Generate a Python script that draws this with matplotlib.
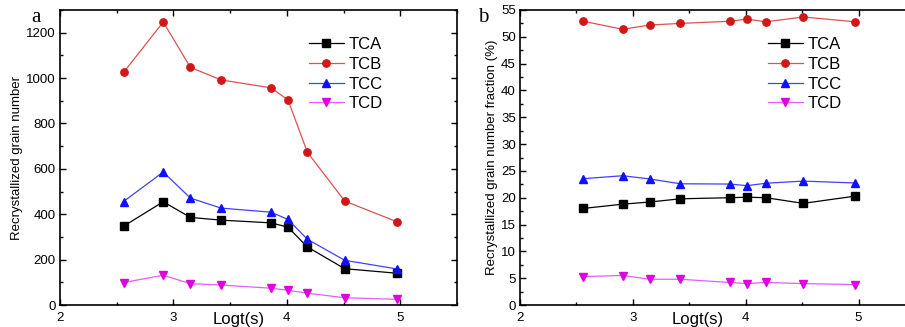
import matplotlib
matplotlib.use("Agg")
import matplotlib.pyplot as plt
from matplotlib.ticker import MultipleLocator

plt.rcParams['font.family'] = ['Liberation Sans', 'DejaVu Sans']

logt = [2.56, 2.91, 3.15, 3.42, 3.86, 4.01, 4.18, 4.51, 4.97]
series = ["TCA", "TCB", "TCC", "TCD"]

num_tca = [347, 455, 386, 374, 362, 343, 256, 160, 140]
num_tcb = [1025, 1247, 1047, 992, 957, 904, 674, 458, 367]
num_tcc = [456, 586, 471, 427, 409, 377, 290, 197, 159]
num_tcd = [99, 131, 94, 88, 74, 65, 52, 32, 25]

frac_tca = [18.0, 18.8, 19.2, 19.8, 20.0, 20.1, 20.0, 18.95, 20.3]
frac_tcb = [52.9, 51.4, 52.2, 52.5, 52.9, 53.3, 52.8, 53.7, 52.8]
frac_tcc = [23.55, 24.1, 23.5, 22.6, 22.55, 22.25, 22.7, 23.1, 22.75]
frac_tcd = [5.3, 5.5, 4.8, 4.8, 4.2, 4.0, 4.2, 4.0, 3.8]

styles = [
    dict(color='black', marker='s', mfc='black', mec='black'),
    dict(color='#e05050', marker='o', mfc='#d01818', mec='#d01818'),
    dict(color='#4040ff', marker='^', mfc='#1010ff', mec='#1010ff'),
    dict(color='#e060ff', marker='v', mfc='#e000e0', mec='#e000e0'),
]

W, H = 905, 327
fig = plt.figure(figsize=(W / 100, H / 100), dpi=100)

ax_a = fig.add_axes([60 / W, 1 - 305 / H, 397 / W, 295 / H])
ax_b = fig.add_axes([520 / W, 1 - 305 / H, 395 / W, 295 / H])

panels = [
    (ax_a, [num_tca, num_tcb, num_tcc, num_tcd], (0, 1300), 200, 100,
     "Recrystallized grain number", "a", -0.06),
    (ax_b, [frac_tca, frac_tcb, frac_tcc, frac_tcd], (0, 55), 5, 2.5,
     "Recrystallized grain number fraction (%)", "b", -0.094),
]

for ax, data, ylim, ymaj, ymin, ylabel, tag, tagx in panels:
    for name, vals, st in zip(series, data, styles):
        ax.plot(logt, vals, color=st['color'], lw=0.9, marker=st['marker'],
                ms=5.3, mfc=st['mfc'], mec=st['mec'], label=name)
    ax.set_xlim(2, 5.5)
    ax.set_ylim(*ylim)
    ax.xaxis.set_major_locator(MultipleLocator(1))
    ax.xaxis.set_minor_locator(MultipleLocator(0.5))
    ax.yaxis.set_major_locator(MultipleLocator(ymaj))
    ax.yaxis.set_minor_locator(MultipleLocator(ymin))
    ax.tick_params(which='both', direction='in', top=True, right=True,
                   labelsize=9.5)
    ax.tick_params(axis='x', pad=5)
    ax.tick_params(axis='y', pad=3)
    ax.tick_params(which='major', length=4, width=1)
    ax.tick_params(which='minor', length=2.5, width=1)
    for sp in ax.spines.values():
        sp.set_linewidth(1.2)
    ax.set_ylabel(ylabel, fontsize=9.5, labelpad=2)
    ax.set_xlabel("Logt(s)", fontsize=12)
    ax.xaxis.set_label_coords(0.45, -0.025)
    ax.xaxis.label.set_va('top')
    ax.legend(loc='upper left', bbox_to_anchor=(0.61, 0.93), frameon=False,
              fontsize=12, handlelength=2.1, handletextpad=0.3,
              labelspacing=0.28, borderaxespad=0)
    ax.text(tagx, 0.975, tag, transform=ax.transAxes, fontsize=15,
            family='Liberation Serif', ha='center', va='center')

fig.savefig("out.png", dpi=100)
